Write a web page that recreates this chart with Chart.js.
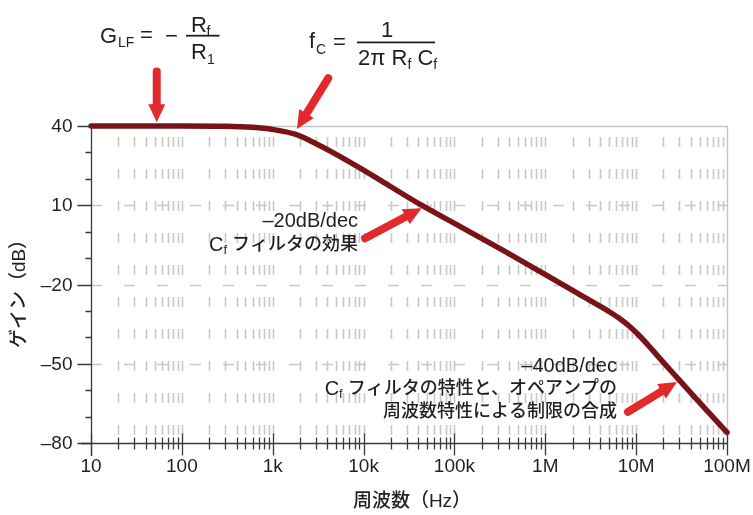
<!DOCTYPE html>
<html>
<head>
<meta charset="utf-8">
<script src="https://cdn.jsdelivr.net/npm/chart.js@4/dist/chart.umd.min.js"></script>
<style>
  html, body { margin: 0; padding: 0; background: #fff; }
  #wrap { width: 753px; height: 515px; }
</style>
</head>
<body>
<div id="wrap"><canvas id="bode" width="753" height="515"></canvas></div>
<script>
// Closed-loop gain of an inverting amplifier with feedback capacitor Cf
const freqHz = [10, 100, 300, 600, 1000, 1800, 3000, 4300, 10000, 20000, 42000, 115000,
                340000, 950000, 2400000, 3900000, 5000000, 6400000, 8500000, 11000000,
                14000000, 17400000, 27600000, 42600000, 65400000, 100000000];
const gainDb = [40, 40, 39.9, 39.5, 38.7, 36.8, 33.3, 30.5, 23.3, 17.0, 10.3, 2.0,
                -7.0, -15.8, -23.8, -28.0, -30.2, -32.6, -35.9, -39.6,
                -43.5, -47.2, -54.9, -62.1, -69.1, -76.0];

// Axis ticks
const decadeTicks = [10, 100, 1e3, 1e4, 1e5, 1e6, 1e7, 1e8];
const decadeLabels = ['10', '100', '1k', '10k', '100k', '1M', '10M', '100M'];
const gainTicks = [40, 10, -20, -50, -80];
const gainTickLabels = ['40', '10', '–20', '–50', '–80'];
const gainMinorTicks = [30, 20, 0, -10, -30, -40, -60, -70];

const xTitle = '周波数（Hz）';
const yTitle = 'ゲイン（dB）';

// Call-outs (frequency / gain positions of arrow tails and tips)
const arrows = [
  { from: [52.9, 60.6], to: [52.9, 41.4] },
  { from: [4090, 58.1], to: [1850, 38.9] },
  { from: [10400, -2.5], to: [43600, 8.85] },
  { from: [8130000, -68.2], to: [28100000, -56.9] }
];
const noteSlope20 = { at: [8690, 4.0], lines: [['–20dB/dec'], ['C', 'f', ' フィルタの効果']] };
const noteSlope40 = { at: [6150000, -50.9], lines: [['–40dB/dec'], ['C', 'f', ' フィルタの特性と、オペアンプの'], ['周波数特性による制限の合成']] };

const FONT = "'Liberation Sans', Arial, 'Noto Sans CJK JP', sans-serif";
const INK = '#231f20';

function minorPositions() {
  const out = [];
  for (let d = 10; d < 1e8; d *= 10) {
    for (let m = 2; m <= 10; m++) out.push(d * m);
  }
  return out;
}

const gridPlugin = {
  id: 'bodeGrid',
  beforeDatasetsDraw(chart) {
    const { ctx, chartArea: a, scales: { x, y } } = chart;
    ctx.save();
    ctx.strokeStyle = '#c8c8c8';
    ctx.lineWidth = 1.6;
    // vertical dashed grid at every 1-2-...-9 frequency
    ctx.setLineDash([10, 22]);
    ctx.lineDashOffset = 21;
    minorPositions().forEach(f => {
      if (f >= 1e8) return;
      const px = Math.round(x.getPixelForValue(f)) + 0.5;
      ctx.beginPath(); ctx.moveTo(px, a.top); ctx.lineTo(px, a.bottom); ctx.stroke();
    });
    // horizontal dashed grid at interior gain ticks
    ctx.setLineDash([11, 22]);
    ctx.lineDashOffset = 0;
    gainTicks.slice(1, -1).forEach(g => {
      const py = Math.round(y.getPixelForValue(g)) + 0.5;
      ctx.beginPath(); ctx.moveTo(a.left, py); ctx.lineTo(a.right, py); ctx.stroke();
    });
    // frame: top and right
    ctx.setLineDash([]);
    ctx.lineWidth = 1.4;
    ctx.strokeStyle = '#c4c4c4';
    ctx.beginPath();
    ctx.moveTo(a.left, a.top + 0.5); ctx.lineTo(a.right + 0.5, a.top + 0.5); ctx.lineTo(a.right + 0.5, a.bottom);
    ctx.stroke();
    ctx.restore();
  },
  afterDatasetsDraw(chart) {
    const { ctx, chartArea: a, scales: { x, y } } = chart;
    ctx.save();
    ctx.strokeStyle = '#3a3a3a';
    ctx.lineWidth = 1.3;
    const ax = Math.round(a.left) + 0.5;
    const ay = Math.round(a.bottom) + 0.5;
    // axis lines
    ctx.beginPath();
    ctx.moveTo(ax, a.top); ctx.lineTo(ax, a.bottom + 13);
    ctx.moveTo(a.left - 10, ay); ctx.lineTo(a.right + 1, ay);
    ctx.stroke();
    // y ticks
    ctx.beginPath();
    gainTicks.forEach(g => {
      const py = Math.round(y.getPixelForValue(g)) + 0.5;
      ctx.moveTo(ax - 14, py); ctx.lineTo(ax, py);
    });
    gainMinorTicks.forEach(g => {
      const py = Math.round(y.getPixelForValue(g)) + 0.5;
      ctx.moveTo(ax - 6, py); ctx.lineTo(ax, py);
    });
    // x ticks
    decadeTicks.forEach(f => {
      const px = Math.round(x.getPixelForValue(f)) + 0.5;
      ctx.moveTo(px, ay - 10); ctx.lineTo(px, ay + 12);
    });
    minorPositions().forEach(f => {
      if (decadeTicks.includes(f)) return;
      const px = Math.round(x.getPixelForValue(f)) + 0.5;
      ctx.moveTo(px, ay - 6); ctx.lineTo(px, ay + 6);
    });
    ctx.stroke();

    // tick labels
    ctx.fillStyle = INK;
    ctx.font = '19px ' + FONT;
    ctx.textBaseline = 'middle';
    ctx.textAlign = 'right';
    gainTicks.forEach((g, i) => ctx.fillText(gainTickLabels[i], ax - 19, y.getPixelForValue(g) + 1));
    ctx.textAlign = 'center';
    decadeTicks.forEach((f, i) => ctx.fillText(decadeLabels[i], x.getPixelForValue(f), ay + 23));

    // axis titles
    ctx.font = '500 19px ' + FONT;
    ctx.fillText(xTitle, (a.left + a.right) / 2 + 3, 502);
    ctx.save();
    ctx.translate(20, 289);
    ctx.rotate(-Math.PI / 2);
    ctx.fillText(yTitle, 0, 0);
    ctx.restore();
    ctx.restore();
  }
};

// Draws text runs where the second run of a line is a subscript
function drawLine(ctx, runs, right, cy) {
  const big = '500 20px ' + FONT;
  const cjk = '500 18px ' + FONT;
  const small = '500 13px ' + FONT;
  const parts = runs.map((t, i) => {
    const sub = runs.length > 1 && i === 1;
    const isCjk = /[\u3000-\u9fff]/.test(t);
    return { t, sub, font: sub ? small : (isCjk ? cjk : big) };
  });
  let w = 0;
  parts.forEach(p => { ctx.font = p.font; p.w = ctx.measureText(p.t).width; w += p.w; });
  let cx = right - w;
  ctx.textAlign = 'left';
  parts.forEach(p => {
    ctx.font = p.font;
    ctx.fillText(p.t, cx, cy + (p.sub ? 5 : 0));
    cx += p.w;
  });
}

function drawArrow(ctx, x0, y0, x1, y1) {
  const ang = Math.atan2(y1 - y0, x1 - x0);
  const headLen = 18, headW = 8.5, shaftW = 8;
  const bx = x1 - Math.cos(ang) * headLen;
  const by = y1 - Math.sin(ang) * headLen;
  ctx.strokeStyle = '#e2292c';
  ctx.fillStyle = '#e2292c';
  ctx.lineWidth = shaftW;
  ctx.lineCap = 'round';
  ctx.beginPath(); ctx.moveTo(x0, y0); ctx.lineTo(bx + Math.cos(ang) * 2, by + Math.sin(ang) * 2); ctx.stroke();
  const nx = -Math.sin(ang), ny = Math.cos(ang);
  ctx.beginPath();
  ctx.moveTo(x1, y1);
  ctx.lineTo(bx + nx * headW, by + ny * headW);
  ctx.lineTo(bx - nx * headW, by - ny * headW);
  ctx.closePath();
  ctx.fill();
}

const notesPlugin = {
  id: 'bodeNotes',
  afterDraw(chart) {
    const { ctx, scales: { x, y } } = chart;
    ctx.save();
    arrows.forEach(ar => drawArrow(ctx,
      x.getPixelForValue(ar.from[0]), y.getPixelForValue(ar.from[1]),
      x.getPixelForValue(ar.to[0]), y.getPixelForValue(ar.to[1])));

    ctx.fillStyle = INK;
    ctx.textBaseline = 'middle';
    [[noteSlope20, 24], [noteSlope40, 23]].forEach(([n, step]) => {
      const rx = x.getPixelForValue(n.at[0]);
      const cy = y.getPixelForValue(n.at[1]);
      n.lines.forEach((runs, i) => drawLine(ctx, runs, rx, cy + i * step));
    });

    // formula: G_LF = − Rf / R1
    ctx.textBaseline = 'alphabetic';
    ctx.textAlign = 'left';
    const big = '22px ' + FONT, small = '14px ' + FONT;
    ctx.font = big; ctx.fillText('G', 100, 43);
    ctx.font = small; ctx.fillText('LF', 118, 47);
    ctx.font = big; ctx.textAlign = 'center';
    ctx.fillText('=', 146.5, 42);
    ctx.fillText('−', 171.5, 43);
    ctx.textAlign = 'left';
    ctx.fillText('R', 191, 31.5);
    ctx.font = small; ctx.fillText('f', 206.5, 35.5);
    ctx.font = big; ctx.fillText('R', 191, 58.5);
    ctx.font = small; ctx.fillText('1', 207, 63.5);
    ctx.fillRect(186, 34.8, 33.5, 1.8);

    // formula: fC = 1 / (2π Rf Cf)
    ctx.font = big; ctx.fillText('f', 309, 48);
    ctx.font = small; ctx.fillText('C', 316, 54);
    ctx.font = big; ctx.textAlign = 'center';
    ctx.fillText('=', 339.5, 49);
    ctx.fillText('1', 387, 36.7);
    ctx.textAlign = 'left';
    ctx.fillRect(357, 41.5, 78, 1.8);
    let cx = 358;
    [['2π R', big, 0], ['f', small, 4], [' C', big, 0], ['f', small, 4]].forEach(([t, f, dy]) => {
      ctx.font = f; ctx.fillText(t, cx, 65 + dy); cx += ctx.measureText(t).width;
    });
    ctx.restore();
  }
};

new Chart(document.getElementById('bode').getContext('2d'), {
  type: 'line',
  data: {
    datasets: [{
      data: freqHz.map((f, i) => ({ x: f, y: gainDb[i] })),
      borderColor: '#781418',
      borderWidth: 5.5,
      pointRadius: 0,
      cubicInterpolationMode: 'monotone',
      borderCapStyle: 'round',
      borderJoinStyle: 'round',
      clip: false
    }]
  },
  options: {
    responsive: false,
    animation: false,
    devicePixelRatio: 1,
    layout: { padding: { left: 91, right: 26, top: 126, bottom: 72 } },
    plugins: { legend: { display: false }, tooltip: { enabled: false } },
    scales: {
      x: { type: 'logarithmic', min: 10, max: 1e8, display: false },
      y: { type: 'linear', min: -80, max: 40, display: false }
    }
  },
  plugins: [gridPlugin, notesPlugin]
});
</script>
</body>
</html>
